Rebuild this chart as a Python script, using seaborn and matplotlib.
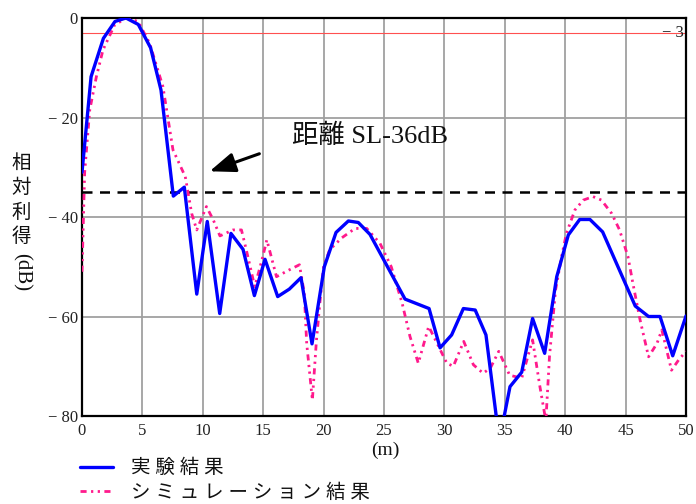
import matplotlib
matplotlib.use("Agg")
import matplotlib.pyplot as plt
import seaborn as sns
import pandas as pd

# measured relative gain along the range (m, dB)
exp_x = [0, 0.75, 1.77, 2.73, 3.64, 4.66, 5.68, 6.54, 7.56, 8.47, 9.5, 10.37,
         11.4, 12.33, 13.33, 14.27, 15.15, 16.2, 17.16, 18.13, 19.04, 20.06,
         21.03, 22.05, 22.87, 23.84, 26.74, 28.73, 29.64, 30.6, 31.57, 32.55,
         33.44, 34.55, 35.43, 36.4, 37.3, 38.3, 39.3, 40.26, 41.2, 42.05, 43.1,
         45.8, 46.9, 47.85, 48.9, 50]
exp_db = [-31, -11.8, -4.1, -0.7, 0, -1.3, -6, -14.5, -35.8, -34, -55.5, -40.9,
          -59.4, -43.3, -46.5, -55.8, -48.5, -56, -54.5, -52.2, -65.5, -50,
          -43.1, -40.8, -41.1, -43.5, -56.5, -58.4, -66.3, -63.7, -58.4, -58.7,
          -63.7, -85, -74.1, -71.2, -60.4, -67.4, -52, -43.6, -40.5, -40.5, -43,
          -57.9, -60, -60, -67.9, -59.9]

# simulated relative gain
sim_x = [0, 0.22, 0.64, 1.19, 1.74, 2.7, 3.67, 4.64, 5.6, 6.7, 7.53, 8.55,
         9.08, 9.5, 10.3, 10.87, 11.42, 12.5, 13.2, 13.6, 14.3, 14.9, 15.3,
         16.1, 17.1, 18.0, 18.4, 18.6, 19.07, 19.4, 19.7, 20.0, 20.5, 21.5,
         22.6, 23.57, 24.67, 25.6, 26.5, 27.15, 27.84, 28.7, 29.4, 30.2, 30.74,
         31.6, 32.4, 33.2, 33.8, 34.5, 35.4, 36.4, 37.3, 37.9, 38.4, 38.7, 39.2,
         39.7, 40.1, 40.8, 41.5, 42.3, 43.0, 43.85, 44.5, 45.2, 45.6, 46.2,
         46.9, 47.6, 48.0, 48.8, 49.4, 50]
sim_db = [-51, -31, -18.5, -11.8, -6.4, -1.4, 0, -0.7, -5.1, -13.8, -26.5, -31.9,
          -39.3, -42.6, -37.9, -40.6, -43.8, -42.6, -42.6, -46.6, -54, -48.6,
          -44.6, -52, -50.7, -49.6, -55.3, -65.4, -76.8, -65, -57, -50, -46.6,
          -44.2, -42.3, -42.3, -45.3, -50, -57.3, -64, -69.4, -62, -65.4, -69.4,
          -70, -65, -69.7, -71.4, -70.4, -67, -71.8, -72.4, -64.7, -74, -81,
          -68, -54.7, -48, -43.3, -38.6, -36.6, -35.9, -36.6, -39.3, -42.6, -48,
          -53.3, -60.7, -68.1, -65.4, -62.7, -70.8, -68.7, -67]

x_ticks = [0, 5, 10, 15, 20, 25, 30, 35, 40, 45, 50]
y_ticks = [-80, -60, -40, -20, 0]
y_tick_labels = ["\u2212 80", "\u2212 60", "\u2212 40", "\u2212 20", "0"]

sidelobe_level = -35
half_power = -3

labels = ["実 験 結 果", "シ ミ ュ レ ー シ ョ ン 結 果"]

sns.set_theme(style="white")
plt.rcParams["font.family"] = ["Liberation Serif", "Noto Sans CJK JP", "DejaVu Sans"]

exp_df = pd.DataFrame({"x": exp_x, "db": exp_db})
sim_df = pd.DataFrame({"x": sim_x, "db": sim_db})

fig = plt.figure(figsize=(6.96, 5.04), dpi=100)
ax = fig.add_axes([82 / 696, 1 - 416 / 504, 604 / 696, 398 / 504])

ax.set_xlim(0, 50)
ax.set_ylim(-80, 0)
ax.set_xticks(x_ticks)
ax.set_yticks(y_ticks)
ax.set_yticklabels(y_tick_labels)
ax.tick_params(axis="both", length=0, labelsize=12, colors="#222222")
ax.tick_params(axis="x", pad=5)
ax.tick_params(axis="y", pad=3)
ax.grid(True, color="#a0a0a0", linewidth=1.3)
for s in ax.spines.values():
    s.set_color("black")
    s.set_linewidth(1.6)

# -3 dB reference line and its label
ax.axhline(half_power, color="#ff5050", linewidth=0.8, zorder=2)
ax.text(49.8, half_power, "\u2212 3", ha="right", va="center", fontsize=12,
        color="#222222", zorder=5)

# sidelobe threshold
ax.axhline(sidelobe_level, color="black", linewidth=1.8,
           dashes=(4, 3), zorder=3)

sns.lineplot(data=sim_df, x="x", y="db", ax=ax, sort=False, estimator=None,
             color="#ff1a8c", linewidth=2.0,
             dashes=False, zorder=4, label=labels[1])
ax.lines[-1].set_linestyle((0, (2.2, 1.6, 0.8, 1.6, 0.8, 1.6)))
sns.lineplot(data=exp_df, x="x", y="db", ax=ax, sort=False, estimator=None,
             color="#0000ff", linewidth=2.4, zorder=5, label=labels[0])

ax.set_xlabel("")
ax.set_ylabel("")

# annotation arrow
ax.annotate("", xy=(10.35, -31.0), xytext=(14.9, -27.1),
            arrowprops=dict(arrowstyle="-|>,head_length=1.3,head_width=0.5",
                            color="black", linewidth=2.2))
ax.text(17.4, -23.7, "距離 SL-36dB", fontsize=19, ha="left", va="center",
        color="#111111")

# axis labels
fig.text(385 / 696, 1 - 450 / 504, "(m)", ha="center", va="center",
         fontsize=14, color="#111111")
fig.text(21 / 696, 1 - 200 / 504, "相\n対\n利\n得", ha="center", va="center",
         fontsize=14, linespacing=1.2, color="#111111",
         family=["Noto Sans CJK JP"])
fig.text(21 / 696, 1 - 272 / 504, "(dB)", ha="center", va="center",
         fontsize=15, rotation=-90, color="#111111")

# legend below the plot
handles, _ = ax.get_legend_handles_labels()
ax.get_legend().remove()
leg = fig.legend([handles[1], handles[0]], [labels[0], labels[1]],
                 loc="upper left", bbox_to_anchor=(80 / 696, 1 - 459 / 504),
                 frameon=False, fontsize=14, handlelength=1.7,
                 handletextpad=0.9, labelspacing=0.3, borderpad=0,
                 borderaxespad=0)
for t in leg.get_texts():
    t.set_color("#111111")

fig.savefig("out.png", dpi=100, facecolor="white")
